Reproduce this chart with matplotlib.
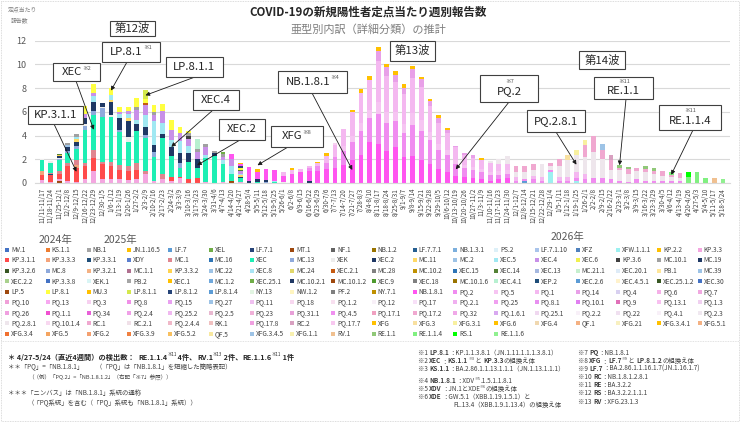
import matplotlib
matplotlib.use("Agg")
import matplotlib.pyplot as plt
from matplotlib.patches import Rectangle
import numpy as np
import pandas as pd

plt.rcParams['font.family'] = ['Noto Sans CJK JP', 'DejaVu Sans']

# ---------------- data ----------------
week_starts = pd.date_range('2024-11-11', periods=80, freq='7D')
week_labels = [f"{d.month}/{d.day}-{(d + pd.Timedelta(days=6)).month}/{(d + pd.Timedelta(days=6)).day}"
               for d in week_starts]
year_labels = ['2024年', '2025年', '2026年']

variant_names = [
    'MV.1', 'KS.1.1', 'NB.1', 'JN.1.16.5', 'LF.7', 'XEL', 'LF.7.1', 'MT.1', 'NF.1', 'NB.1.2', 'LF.7.7.1', 'NB.1.3.1', 'PS.2', 'LF.7.1.10', 'XFZ', 'XFW.1.1.1', 'KP.2.2', 'KP.3.3',
    'KP.3.1.1', 'KP.3.3.3', 'KP.3.3.1', 'XDY', 'MC.1', 'MC.16', 'XEC', 'MC.13', 'XEK', 'XEC.2', 'MC.11', 'MC.2', 'XEC.5', 'XEC.4', 'XEC.6', 'KP.3.6', 'MC.10.1', 'MC.19',
    'KP.3.2.6', 'MC.8', 'KP.3.2.1', 'MC.1.1', 'KP.3.3.2', 'MC.22', 'XEC.8', 'MC.24', 'XEC.2.1', 'MC.28', 'MC.10.2', 'XEC.15', 'XEC.14', 'XEC.13', 'MC.21.1', 'XEC.20.1', 'PB.1', 'MC.39',
    'XEC.2.2', 'KP.3.3.8', 'XEK.1', 'PB.2', 'XEC.1', 'MC.1.2', 'XEC.25.1', 'MC.10.2.1', 'MC.10.1.2', 'XEC.9', 'XEC.18', 'MC.10.1.6', 'XEC.4.1', 'XEP.2', 'XEC.2.6', 'XEC.4.5.1', 'XEC.25.1.2', 'XEC.30',
    'LP.5', 'LP.8.1', 'MU.3', 'LP.8.1.1', 'LP.8.1.2', 'LP.8.1.4', 'NY.13', 'NW.1.2', 'PF.2', 'NY.7.1', 'NB.1.8.1', 'PQ.2', 'PQ.5', 'PQ.1', 'PQ.14', 'PQ.4', 'PQ.6', 'PQ.7',
    'PQ.10', 'PQ.13', 'PQ.3', 'PQ.8', 'PQ.15', 'PQ.27', 'PQ.11', 'PQ.18', 'PQ.1.2', 'PQ.12', 'PQ.17', 'PQ.2.1', 'PQ.25', 'PQ.8.1', 'PQ.10.1', 'PQ.9', 'PQ.13.1', 'PQ.1.3',
    'PQ.26', 'PQ.1.1', 'PQ.34', 'PQ.2.4', 'PQ.25.2', 'PQ.2.5', 'PQ.23', 'PQ.31.1', 'PQ.4.5', 'PQ.17.1', 'PQ.17.2', 'PQ.32', 'PQ.1.6.1', 'PQ.25.1', 'PQ.2.2', 'PQ.22', 'PQ.4.1', 'PQ.2.3',
    'PQ.2.8.1', 'PQ.10.1.4', 'RC.1', 'RC.2.1', 'PQ.2.4.4', 'RK.1', 'PQ.17.8', 'RC.2', 'PQ.17.7', 'XFG', 'XFG.3', 'XFG.3.1', 'XFG.6', 'XFG.4', 'QF.1', 'XFG.21', 'XFG.3.4.1', 'XFG.5.1',
    'XFG.3.4', 'XFG.5', 'XFG.2', 'XFG.3.9', 'XFG.5.2', 'QF.5', 'XFG.3.4.5', 'XFG.1.1', 'RV.1', 'RE.1.1', 'RE.1.1.4', 'RS.1', 'RE.1.1.6',
]
variant_colors = [
    '#4472C4', '#ED7D31', '#A5A5A5', '#FFC000', '#5B9BD5', '#70AD47', '#264478', '#9E480E', '#636363', '#997300', '#255E91', '#7CAFDD', '#DDF0F8', '#A9C4EB', '#4F81BD', '#9CF0F0', '#FFC000', '#F4A6E0',
    '#FF4B4B', '#F4A37A', '#1F4E79', '#5B7FD0', '#E0858F', '#2E75B6', '#1EEFB4', '#8FAADC', '#EDEDED', '#1F3864', '#FFD966', '#9DC3E6', '#A0E8F2', '#C890E8', '#F0F050', '#404040', '#A0A0A0', '#1F3864',
    '#375623', '#8EA9DB', '#F4B183', '#B07090', '#FFD34F', '#9DC3E6', '#A9E5F5', '#E2D86A', '#C55A11', '#808080', '#BF9000', '#2E75B6', '#548235', '#A6B8E0', '#C6EFCE', '#DEEBF7', '#FFE699', '#9DC3E6',
    '#A9D18E', '#4472C4', '#D9F5F5', '#A5A5A5', '#FFC000', '#6FA8DC', '#70AD47', '#203864', '#9E480E', '#4E9A2E', '#7F7F7F', '#997300', '#B7F0D0', '#1F4E79', '#5B9BD5', '#FFF2CC', '#385723', '#4472C4',
    '#9E480E', '#FFFF40', '#FFC000', '#D4E84C', '#264478', '#5B9BD5', '#E2F5E2', '#FFF5C0', '#7F7F7F', '#BF9000', '#FF55F0', '#F08CF0', '#F6C4F2', '#F4B8F0', '#E8A0E8', '#D8D0F0', '#F5B0E8', '#F0A8E0',
    '#F0A0D8', '#F7A8F0', '#F7D0F0', '#F090E8', '#E8A0F0', '#9DC3E6', '#F0C0F0', '#F8D8F0', '#F8E0F0', '#F8F0F8', '#F8E0F8', '#F0B0F0', '#F0A0F0', '#E890F0', '#E080F0', '#E070B8', '#F8C0F0', '#F0D0F0',
    '#F0A0E0', '#F050D0', '#E860D8', '#F0A0E8', '#F0B8F0', '#E8B8D0', '#F0B0D8', '#E8A0D8', '#F090F0', '#F0A0C0', '#F0A8D0', '#F0A8E8', '#D8A8F0', '#F0D8F0', '#F8F0F8', '#F0E0F0', '#F8F0F8', '#F0E8F0',
    '#EEE6EC', '#F8D8F0', '#F0A8D0', '#F0E0E8', '#F0B8C8', '#F0C0C0', '#F0A0E0', '#D8A0C0', '#F8C8F0', '#FFC000', '#F8E0A0', '#F8F0A0', '#FFC000', '#F0D8B0', '#F4B183', '#F8F0C0', '#FFC000', '#F4B183',
    '#F07030', '#F4A460', '#F4A070', '#F08040', '#F8C060', '#F8E8A0', '#9DC3E6', '#F8F0B0', '#F0C090', '#90C878', '#80F080', '#00FF00', '#90F090',
]

# weekly values per sentinel, by lineage (80 weeks)
KP_3_3 = [0.25, 0.1, 0.15, 0.15, 0.1, 0.3, 1.0, 0.3, 0.35, 0.3, 0.25, 0.3, 0.8, 0.2, 0.3, 0.2, 0.4, 0, 0, 0.1, 0, 0.1, 0, 0.1] + [0] * 56
KP_3_1_1 = [0.45, 0.55, 0.45, 1.25, 1.2, 1.1, 1.1, 1.3, 1.1, 0.8, 0.8, 0.8, 0, 0, 0, 0.3, 0.1, 0.3, 0.4] + [0] * 61
KP_3_3_3 = [0.3, 0, 0, 0, 0.25] + [0] * 75
KP_3_3_1 = [0, 0.1] + [0] * 78
MT_1 = [0, 0, 0.15] + [0] * 19 + [0.2] + [0] * 57
MC_1 = [0.05, 0.1, 0.25, 0.3, 0.4, 0.3, 0.7, 0.2, 0.3, 0.4, 0.4, 0.6, 0.2, 0, 0.5] + [0] * 65
XEC = [0.9, 0.85, 0.9, 0.8, 0.95, 2.8, 2.9, 3.8, 3.8, 2.8, 2.0, 2.7, 2.8, 2.0, 3.0, 1.8, 0.8, 1.5, 0.9, 2.0,
       2.3, 1.5, 0.6, 0.3, 0, 0.1, 0, 0.1] + [0] * 52
MC_13 = [0, 0, 0.1, 0.2, 0.2, 0.3, 0.4, 0.7, 0, 0.2, 0, 0, 0.25, 0.4, 0, 0, 0.35, 0, 0, 0, 0, 0, 0, 0, 0, 0, 0.1] + [0] * 53
XEK = [0.05, 0.15, 0.15, 0, 0, 0.2, 0, 0.15, 0.2, 0, 0.4, 0, 0, 0, 0, 0, 0, 0, 0, 0, 0, 0, 0, 0, 0, 0, 0, 0, 0.1] + [0] * 51
XEC_2 = [0, 0, 0.1, 0.35, 0.4, 0.5, 0.7, 0.3, 1.1, 1.0, 1.4, 0.6, 0.7, 0.6, 0.3, 0.7, 0.9, 0.7, 0.7, 0,
         0.2, 0, 0, 0.1, 0.15, 0.2, 0.15, 0, 0, 0, 0, 0.2] + [0] * 48
MC_11 = [0, 0, 0, 0, 0.2, 0, 0, 0, 0.15, 0, 0.2, 0, 0, 0, 0, 0, 0, 0, 0, 0, 0, 0, 0, 0.15] + [0] * 56
MC_2 = [0, 0, 0, 0.15] + [0] * 76
XEC_5 = [0, 0, 0, 0, 0.15, 0, 0.5, 0, 0.4, 0.3, 0.4, 0.3, 1.0, 2.0, 1.0, 0.6, 1.0, 0.6, 0, 0.3,
         0, 0.3, 0.6, 0.15, 0, 0, 0, 0.1] + [0] * 52
XEC_4 = [0, 0, 0, 0, 0, 0.3, 0.3, 0, 0, 0.2, 0.2, 0.9, 0.8, 0.5, 1.0, 0.9, 0.7, 0.6, 0.6, 0.6, 0, 0.3, 0.6, 0.2] + [0] * 56
KP_3_6 = [0] * 17 + [0.3] + [0] * 62
MC_10_1 = [0, 0, 0, 0.2, 0.25, 0, 0, 0, 0, 0, 0, 0.2, 0, 0.3, 0, 0, 0, 0.2, 0.25, 0.3, 0.2, 0.25] + [0] * 58
XEC_2_1 = [0] * 12 + [0.2] + [0] * 67
XEC_14 = [0, 0, 0.1] + [0] * 20 + [0.1] + [0] * 56
KP_3_3_2 = [0, 0, 0.1] + [0] * 77
XEC_4_1 = [0] * 18 + [0.9] + [0] * 61
XEC_25_1 = [0] * 21 + [0.15] + [0] * 58
LP_8_1 = [0, 0, 0, 0, 0, 0.7, 0.75, 0, 0.6, 0.4, 0.35, 0.8, 0.3, 0.6, 0.6, 0.8, 0.5, 0.2, 0, 0, 0, 0, 0, 0.2] + [0] * 56
LP_8_1_1 = [0] * 12 + [0.8] + [0] * 67
LP_8_1_2 = [0] * 23 + [0.1] + [0] * 56
NB_1_8_1 = [0] * 22 + [0.45, 0.2, 1.2, 0.6, 0.95, 0.9, 0.5, 0.8,
                      0.9, 0.8, 1.0, 1.2, 1.3, 1.5, 1.9, 2.4, 3.5, 3.3,
                      2.7, 3.0, 2.2, 2.3, 1.9, 1.6, 1.2, 0.9, 0.6, 0.5,
                      0.4, 0.3, 0.2, 0.3, 0.4] + [0] * 25
PQ_2 = [0] * 31 + [0.3, 0.4, 0.5, 0.9, 1.2, 1.6, 2.0, 2.0, 2.5,
                  2.4, 2.2, 2.0, 2.6, 2.5, 2.0, 1.6, 1.5, 1.0, 0.8,
                  0.7, 0.6, 0.5, 0.4, 0.4, 0.2, 0.2, 0.3, 0.2, 0.2,
                  0.2, 0.2, 0.3, 0.3, 0.4, 0.4, 0.3, 0.2, 0.1, 0.3,
                  0.15, 0.2, 0.2, 0.2, 0.15] + [0] * 5
PQ_5 = [0] * 35 + [0.45, 0.5, 0.7, 0.7, 1.0,
                  0.9, 0.8, 0.8, 1.0, 0.9, 0.7, 0.5, 0.4, 0.3, 0.2,
                  0.25, 0.25, 0.25, 0.3, 0.3] + [0] * 25
PQ_1 = [0] * 28 + [0.35, 0.3,
                  0.25, 0.15, 0.3, 0.6, 1.0, 1.4, 2.0, 2.5, 2.5, 3.5,
                  3.0, 2.5, 2.5, 3.0, 2.8, 2.2, 1.8, 1.4, 1.1, 0.9,
                  0.8, 0.8, 0.7, 0.6, 0.5, 0.3, 0, 0.3, 0.3, 0,
                  0.3, 0.3, 0.5, 0.5] + [0] * 16
PQ_14 = [0] * 39 + [0.8, 0.75, 0.6, 0.5, 0.7, 0.7, 0.4, 0.35, 0.25, 0.15, 0.15, 0.2] + [0] * 29
PQ_3 = [0] * 34 + [0.2] + [0] * 45
RC_1 = [0] * 55 + [0.5, 0.5, 0.5, 0, 0.3,
                  0.6, 0, 0, 1.0, 1.4, 0.8, 0.8, 0.15, 0.35, 0.3,
                  0.2, 0.25, 0.4, 0.2, 0.4] + [0] * 5
RC_2 = [0] * 66 + [0.5] + [0] * 13
PQ_2_8_1 = [0] * 52 + [0.2, 0.4, 0.65, 0.4, 0.55, 0.5, 1.1, 0.3,
                      0.9, 1.4, 1.4, 1.4, 2.2, 1.6, 0.8, 0.9, 0.7, 0.7,
                      0.8, 0.6, 0.4, 0.3, 0.3] + [0] * 5
LF_7 = [0] * 56 + [0.15] + [0] * 23
XFW_1_1_1 = [0] * 59 + [0.9, 0, 0, 0.15] + [0] * 17
XFG = [0] * 23 + [0.1, 0, 0.3, 0, 0, 0, 0.15,
                 0, 0, 0.1, 0.2, 0, 0, 0.2, 0.35, 0.3, 0.4,
                 0.3, 0.35, 0.35, 0.3, 0.15, 0.15, 0.25, 0.15, 0, 0,
                 0, 0.2] + [0] * 28
XFG_3 = [0] * 61 + [0.5] + [0] * 18
XFG_3_1 = [0] * 62 + [0.4, 0.4] + [0] * 16
XFG_3_4_5 = [0] * 65 + [0.45] + [0] * 14
RE_1_1 = [0] * 67 + [0.3, 0.2, 0, 0.25, 0.2] + [0] * 8
RE_1_1_4 = [0] * 73 + [0.2, 0, 0.5, 0.9, 0.45] + [0] * 2
RS_1 = [0] * 75 + [0.45] + [0] * 4
RV_1 = [0] * 78 + [0.4, 0]
RE_1_1_6 = [0] * 79 + [0.3]

series = {
    'KP.3.3': KP_3_3, 'KP.3.1.1': KP_3_1_1, 'KP.3.3.3': KP_3_3_3, 'KP.3.3.1': KP_3_3_1, 'MT.1': MT_1,
    'MC.1': MC_1, 'XEC': XEC, 'MC.13': MC_13, 'XEK': XEK, 'XEC.2': XEC_2, 'MC.11': MC_11, 'MC.2': MC_2,
    'XEC.5': XEC_5, 'XEC.4': XEC_4, 'KP.3.6': KP_3_6, 'MC.10.1': MC_10_1, 'XEC.2.1': XEC_2_1,
    'XEC.14': XEC_14, 'KP.3.3.2': KP_3_3_2, 'XEC.4.1': XEC_4_1, 'XEC.25.1': XEC_25_1,
    'LP.8.1': LP_8_1, 'LP.8.1.1': LP_8_1_1, 'LP.8.1.2': LP_8_1_2, 'NB.1.8.1': NB_1_8_1,
    'PQ.2': PQ_2, 'PQ.5': PQ_5, 'PQ.1': PQ_1, 'PQ.14': PQ_14, 'PQ.3': PQ_3, 'RC.1': RC_1, 'RC.2': RC_2,
    'PQ.2.8.1': PQ_2_8_1, 'LF.7': LF_7, 'XFW.1.1.1': XFW_1_1_1, 'XFG': XFG, 'XFG.3': XFG_3,
    'XFG.3.1': XFG_3_1, 'XFG.3.4.5': XFG_3_4_5, 'RE.1.1': RE_1_1, 'RE.1.1.4': RE_1_1_4, 'RS.1': RS_1,
    'RV.1': RV_1, 'RE.1.1.6': RE_1_1_6,
}

# ---------------- figure ----------------
W, H = 741, 423
fig = plt.figure(figsize=(W / 100, H / 100), dpi=100)
fig.patch.set_facecolor('white')

px_per_bar = 8.62
x_lo, x_hi = -0.8, 79.8
ax_left = 42 - 0.8 * px_per_bar
ax_w = (x_hi - x_lo) * px_per_bar
y0_px, y12_px = 183, 40.8
ax = fig.add_axes([ax_left / W, (H - y0_px) / H, ax_w / W, (y0_px - y12_px) / H])

x = np.arange(len(week_labels))
bottom = np.zeros(len(week_labels))
for name, col in zip(variant_names, variant_colors):
    vals = np.array(series.get(name, [0] * len(week_labels)), dtype=float)
    if vals.sum() > 0:
        ax.bar(x, vals, bottom=bottom, width=0.55, color=col, linewidth=0, zorder=2)
        bottom += vals

ax.set_xlim(x_lo, x_hi)
ax.set_ylim(0, 12)
ax.set_yticks(range(0, 13, 2))
ax.tick_params(axis='y', length=0, labelsize=6.5, labelcolor='#595959', pad=6)
ax.set_xticks(x)
ax.set_xticklabels(week_labels, rotation=90, fontsize=4.5, color='#404040')
ax.tick_params(axis='x', length=0, pad=3.5)
ax.grid(axis='y', color='#D9D9D9', lw=0.8, zorder=0)
for s in ['top', 'right', 'left']:
    ax.spines[s].set_visible(False)
ax.spines['bottom'].set_color('#D9D9D9')

# overlay in pixel coordinates
ov = fig.add_axes([0, 0, 1, 1], zorder=5)
ov.set_xlim(0, W)
ov.set_ylim(H, 0)
ov.axis('off')
ov.patch.set_alpha(0)
renderer = fig.canvas.get_renderer()


def text_w(t):
    return t.get_window_extent(renderer=renderer).width


# frame lines
ov.add_patch(Rectangle((1, 1), W - 3, H - 3, fill=False, edgecolor='#D0D0D0', lw=0.6, ls=(0, (1, 1))))
ov.plot([1, W - 2], [341, 341], color='#D8D8D8', lw=0.6, ls=(0, (1, 1)))

# titles
ov.text(368, 12, 'COVID-19の新規陽性者定点当たり週別報告数', ha='center', va='center',
        fontsize=8.3, fontweight='bold', color='#262626')
ov.text(368, 29.5, '亜型別内訳（詳細分類）の推計', ha='center', va='center', fontsize=8, color='#7F7F7F')
ov.text(22, 10, '定点当たり', ha='center', va='center', fontsize=4.2, color='#7F7F7F')
ov.text(20, 20.5, '報告数', ha='center', va='center', fontsize=4.2, color='#7F7F7F')

# year labels
for lab, (xx, yy) in zip(year_labels, [(55, 240), (120, 240), (567, 237)]):
    ov.text(xx, yy, lab, ha='center', va='center', fontsize=7.5, color='#595959')


# annotation boxes
def label_box(l, t, r, b, main, sup=None, mode='right', size=8.2):
    ov.add_patch(Rectangle((l, t), r - l, b - t, facecolor='white', edgecolor='#404040', lw=0.8, zorder=6))
    cx, cy = (l + r) / 2, (t + b) / 2
    if sup is None:
        ov.text(cx, cy, main, ha='center', va='center', fontsize=size, color='#262626', zorder=7)
    elif mode == 'right':
        tm = ov.text(0, 0, main, fontsize=size)
        ts = ov.text(0, 0, sup, fontsize=size * 0.5)
        wm, ws = text_w(tm), text_w(ts)
        tm.remove()
        ts.remove()
        x0 = cx - (wm + ws) / 2
        ov.text(x0, cy, main, ha='left', va='center', fontsize=size, color='#262626', zorder=7)
        ov.text(x0 + wm, cy - 4, sup, ha='left', va='center', fontsize=size * 0.5, color='#595959', zorder=7)
    else:
        ov.text(cx, cy + 3, main, ha='center', va='center', fontsize=size, color='#262626', zorder=7)
        ov.text(cx, cy - 6.5, sup, ha='center', va='center', fontsize=size * 0.5, color='#595959', zorder=7)


def arrow(bar_i, val, sx, sy):
    ov.annotate('', xy=(bar_i, val), xycoords=ax.transData, xytext=(sx, sy), textcoords='data',
                arrowprops=dict(arrowstyle='-|>', color='#1a1a1a', lw=0.6, mutation_scale=6,
                                shrinkA=0, shrinkB=0), zorder=5.5)


arrow(8, 7.8, 127, 62)
arrow(6, 4.5, 76, 81)
arrow(12, 7.4, 195, 77)
arrow(4, 0.95, 54, 124)
arrow(15, 3.05, 213, 110)
arrow(18, 1.5, 240, 140)
arrow(25, 1.5, 288, 147)
arrow(36, 1.1, 312, 93)
arrow(48, 1.15, 509, 102)
arrow(62, 1.55, 556, 132)
arrow(67, 1.5, 626, 99)
arrow(73, 0.7, 693, 130)

label_box(110, 21, 155, 36, '第12波')
label_box(101.7, 41.7, 160, 61.7, 'LP.8.1', '※1')
label_box(53.3, 63.3, 100, 81, 'XEC', '※2')
label_box(166, 57.3, 222.7, 77.3, 'LP.8.1.1')
label_box(28.3, 106, 83.3, 124.3, 'KP.3.1.1')
label_box(192.7, 90, 239.3, 110, 'XEC.4')
label_box(219, 119, 265, 140, 'XEC.2')
label_box(270.7, 126, 322.7, 146.7, 'XFG', '※8')
label_box(277.7, 71, 346.7, 92.7, 'NB.1.8.1', '※4')
label_box(390, 40.7, 435.3, 60.7, '第13波')
label_box(480, 75, 538.3, 101.7, 'PQ.2', '※7', mode='top')
label_box(526.7, 110, 585, 131.7, 'PQ.2.8.1')
label_box(579.3, 50.7, 625, 69.3, '第14波')
label_box(594.3, 76.7, 653.3, 98.7, 'RE.1.1', '※11', mode='top')
label_box(659.3, 105, 720.7, 130, 'RE.1.1.4', '※11', mode='top')

# legend grid (18 columns, row-major like the original)
for k, (name, col) in enumerate(zip(variant_names, variant_colors)):
    r, c = divmod(k, 18)
    lx = 5 + 40.75 * c
    ly = 250 + 10.5 * r
    ov.add_patch(Rectangle((lx, ly - 2), 4, 4, facecolor=col, edgecolor='none'))
    ov.text(lx + 6, ly, name, fontsize=4.7, va='center', ha='left', color='#404040')


# notes with mixed weights
def runs(xs, y, parts, size, color='#404040'):
    xx = xs
    for txt, bold, sup in parts:
        s = size * 0.6 if sup else size
        yy = y - size * 0.75 if sup else y
        t = ov.text(xx, yy, txt, fontsize=s, fontweight='bold' if bold else 'normal', color=color,
                    va='baseline', ha='left')
        xx += text_w(t)


runs(8, 360, [('＊ 4/27-5/24（直近4週間）の検出数：  ', True, False),
              ('RE.1.1.4', True, False), ('※11', False, True), (' 4件、', True, False),
              ('RV.1', True, False), ('※13', False, True), (' 2件、', True, False),
              ('RE.1.1.6', True, False), ('※11', False, True), (' 1件', True, False)], 5.2, '#262626')
runs(8, 369.5, [('＊＊「PQ」=「NB.1.8.1」　　（「PQ」は「NB.1.8.1」を短縮した簡略表記）', False, False)], 4.6)
runs(28, 379, [('（（例）「PQ.2」=「NB.1.8.1.2」（右記「※7」参照））', False, False)], 4.0)
runs(8, 395, [('＊＊＊「ニンバス」は「NB.1.8.1」系統の通称', False, False)], 4.6)
runs(28, 405.5, [('（「PQ系統」を含む（「PQ」系統も「NB.1.8.1」系統））', False, False)], 4.6)

ns = 4.6
c1 = 418
runs(c1, 355, [('※1 ', False, False), ('LP.8.1', True, False), ('：KP.1.1.3.8.1（JN.1.11.1.1.1.3.8.1）', False, False)], ns)
runs(c1, 363, [('※2 ', False, False), ('XEC', True, False), ('：', False, False), ('KS.1.1', True, False),
               ('※3', False, True), (' と ', False, False), ('KP.3.3', True, False), ('の組換え体', False, False)], ns)
runs(c1, 371, [('※3 ', False, False), ('KS.1.1', True, False), ('：BA.2.86.1.1.13.1.1.1（JN.1.13.1.1.1）', False, False)], ns)
runs(c1, 383, [('※4 ', False, False), ('NB.1.8.1', True, False), ('：XDV', False, False), ('※5', False, True),
               ('.1.5.1.1.8.1', False, False)], ns)
runs(c1, 391, [('※5 ', False, False), ('XDV', True, False), ('：JN.1とXDE', False, False), ('※6', False, True),
               ('の組換え体', False, False)], ns)
runs(c1, 399, [('※6 ', False, False), ('XDE', True, False), ('：GW.5.1（XBB.1.19.1.5.1）と', False, False)], ns)
runs(453, 407.5, [('FL.13.4（XBB.1.9.1.13.4）の組換え体', False, False)], ns)

c2 = 578
runs(c2, 355, [('※7 ', False, False), ('PQ', True, False), ('：NB.1.8.1', False, False)], ns)
runs(c2, 363, [('※8 ', False, False), ('XFG', True, False), ('：', False, False), ('LF.7', True, False),
               ('※9', False, True), (' と ', False, False), ('LP.8.1.2', True, False), ('の組換え体', False, False)], ns)
runs(c2, 371, [('※9 ', False, False), ('LF.7', True, False), ('：BA.2.86.1.1.16.1.7(JN.1.16.1.7)', False, False)], ns)
runs(c2, 379, [('※10 ', False, False), ('RC', True, False), ('：NB.1.8.1.2.8.1', False, False)], ns)
runs(c2, 387, [('※11 ', False, False), ('RE', True, False), ('：BA.3.2.2', False, False)], ns)
runs(c2, 395, [('※12 ', False, False), ('RS', True, False), ('：BA.3.2.2.1.1.1', False, False)], ns)
runs(c2, 404, [('※13 ', False, False), ('RV', True, False), ('：XFG.23.1.3', False, False)], ns)

fig.savefig('out.png', dpi=100, facecolor='white')
